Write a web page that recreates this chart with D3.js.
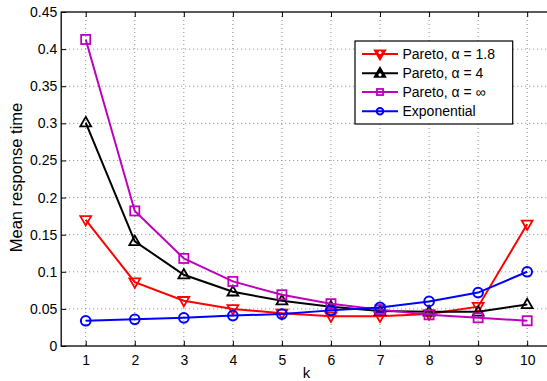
<!DOCTYPE html>
<html><head><meta charset="utf-8">
<script src="https://cdn.jsdelivr.net/npm/d3@7"></script>
<style>body{margin:0;background:#fff}svg{display:block;font-family:"Liberation Sans",Arial,sans-serif}</style>
</head><body>
<svg id="c" width="547" height="381"></svg>
<script>
const ks = [1,2,3,4,5,6,7,8,9,10];
const pareto18 = [0.170,0.086,0.061,0.050,0.044,0.040,0.040,0.043,0.053,0.164];
const pareto4 = [0.301,0.141,0.096,0.073,0.061,0.053,0.047,0.046,0.046,0.056];
const paretoInf = [0.413,0.182,0.118,0.087,0.069,0.057,0.049,0.042,0.038,0.034];
const exponential = [0.034,0.036,0.038,0.041,0.043,0.048,0.052,0.060,0.072,0.100];
const yTicks = [0,0.05,0.1,0.15,0.2,0.25,0.3,0.35,0.4,0.45];
const yTickLabels = ["0","0.05","0.1","0.15","0.2","0.25","0.3","0.35","0.4","0.45"];
const seriesNames = ["Pareto, \u03b1 = 1.8","Pareto, \u03b1 = 4","Pareto, \u03b1 = \u221e","Exponential"];
const seriesColors = ["#ff0000","#000000","#bf00bf","#0000ff"];
const seriesMarkers = ["tri-down","tri-up","square","circle"];
const seriesData = [pareto18, pareto4, paretoInf, exponential];

const svg = d3.select("#c");
const L=61.2, R=551.7, T=12, B=346;
const FS = 14;
const x = d3.scaleLinear().domain([0.5,10.5]).range([L,R]);
const y = d3.scaleLinear().domain([0,0.45]).range([B,T]);

// grid
const g = svg.append("g");
g.selectAll(".gx").data(ks).enter().append("line")
  .attr("x1",d=>x(d)).attr("x2",d=>x(d)).attr("y1",T).attr("y2",B)
  .attr("stroke","#888").attr("stroke-width",1).attr("stroke-dasharray","1,3");
g.selectAll(".gy").data(yTicks.slice(1,-1)).enter().append("line")
  .attr("y1",d=>y(d)).attr("y2",d=>y(d)).attr("x1",L).attr("x2",R)
  .attr("stroke","#888").attr("stroke-width",1).attr("stroke-dasharray","1,3");

// axes
const xAxis = d3.axisBottom(x).tickValues(ks).tickSizeInner(-5).tickSizeOuter(0).tickPadding(9);
const yAxis = d3.axisLeft(y).tickValues(yTicks).tickFormat((d,i)=>yTickLabels[i]).tickSizeInner(-5).tickSizeOuter(0).tickPadding(4);
const xa = svg.append("g").attr("transform",`translate(0,${B})`).call(xAxis);
const ya = svg.append("g").attr("transform",`translate(${L},0)`).call(yAxis);
const xt = svg.append("g").attr("transform",`translate(0,${T})`).call(d3.axisTop(x).tickValues(ks).tickSizeInner(-5).tickSizeOuter(0).tickFormat(""));
[xa,ya,xt].forEach(a=>{
  a.selectAll("text").attr("font-size",FS).attr("fill","#000").attr("font-family","Liberation Sans, Arial, sans-serif");
  a.select(".domain").remove();
  a.selectAll(".tick line").attr("stroke","#000");
});
// box
svg.append("rect").attr("x",L).attr("y",T).attr("width",R-L).attr("height",B-T)
  .attr("fill","none").attr("stroke","#000").attr("stroke-width",1.3);

svg.append("text").attr("x",(L+R)/2).attr("y",378).attr("text-anchor","middle")
  .attr("font-size",15).text("k");
svg.append("text").attr("transform",`translate(21.5,177.5) rotate(-90)`).attr("text-anchor","middle")
  .attr("font-size",16.5).text("Mean response time");

function marker(sel, type, color, size, fill){
  if(type==="circle"){
    sel.append("circle").attr("r",size*0.85).attr("fill",fill).attr("stroke",color).attr("stroke-width",2);
  } else if(type==="square"){
    const s=size*0.8;
    sel.append("rect").attr("x",-s).attr("y",-s).attr("width",2*s).attr("height",2*s)
      .attr("fill",fill).attr("stroke",color).attr("stroke-width",1.8);
  } else {
    const s=size, d = type==="tri-up"?-1:1;
    const p = [[0,d*s],[-s*0.95,-d*s*0.65],[s*0.95,-d*s*0.65]];
    sel.append("path").attr("d","M"+p.map(q=>q.join(",")).join("L")+"Z")
      .attr("fill",fill).attr("stroke",color).attr("stroke-width",1.8).attr("stroke-linejoin","miter");
  }
}

const line = d3.line().x((d,i)=>x(ks[i])).y(d=>y(d));
const plot = svg.append("g");
seriesData.forEach((data,si)=>{
  plot.append("path").datum(data).attr("d",line).attr("fill","none")
    .attr("stroke",seriesColors[si]).attr("stroke-width",2);
  data.forEach((v,i)=>{
    const m = plot.append("g").attr("transform",`translate(${x(ks[i])},${y(v)})`);
    marker(m, seriesMarkers[si], seriesColors[si], 5.7, "none");
  });
});

// legend
const lg = svg.append("g");
lg.append("rect").attr("x",355).attr("y",41).attr("width",157.7).attr("height",83)
  .attr("fill","#fff").attr("stroke","#000").attr("stroke-width",1.2);
const ly = [54,73.3,92,111.3];
seriesNames.forEach((n,i)=>{
  lg.append("line").attr("x1",362).attr("x2",398).attr("y1",ly[i]).attr("y2",ly[i])
    .attr("stroke",seriesColors[i]).attr("stroke-width",2);
  const m = lg.append("g").attr("transform",`translate(380,${ly[i]})`);
  marker(m, seriesMarkers[i], seriesColors[i], i<2?5.5:3.8, i<2?seriesColors[i]:"none");
  if(i<2){ m.append("circle").attr("r",1.6).attr("fill","#fff").attr("cy", i===0?-1.5:1.5); }
  lg.append("text").attr("x",402.5).attr("y",ly[i]+5).attr("font-size",FS).text(n);
});
</script>
</body></html>
